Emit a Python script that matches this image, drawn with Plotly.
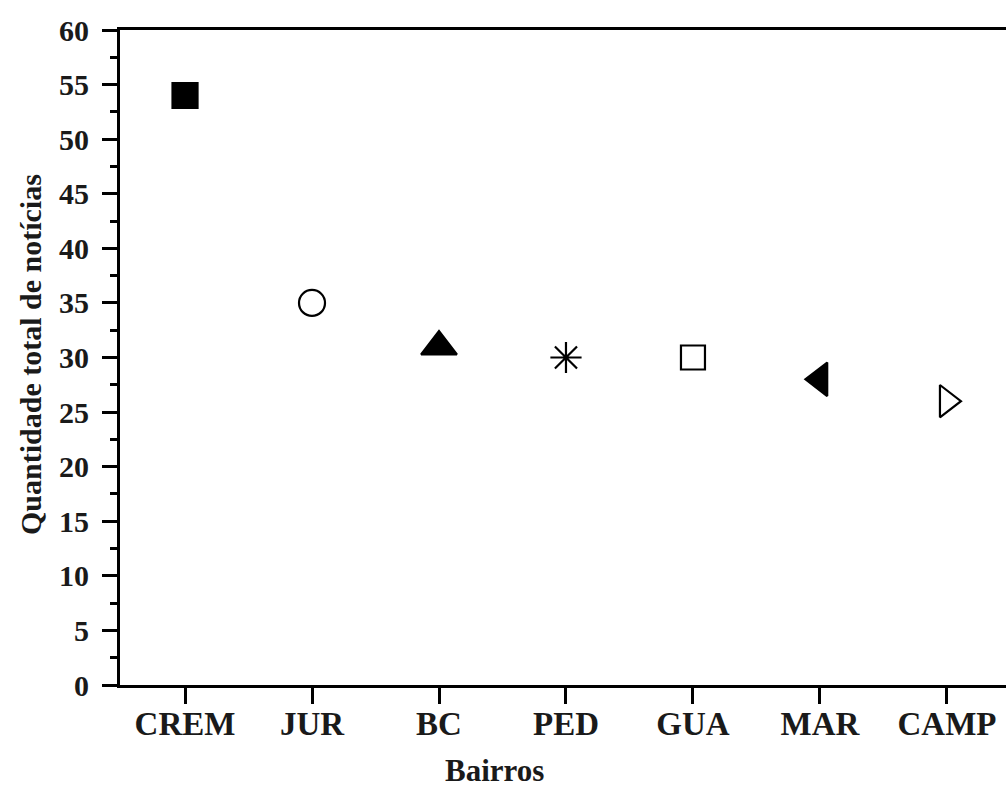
import plotly.graph_objects as go

# ---- data ----
bairros = ["CREM", "JUR", "BC", "PED", "GUA", "MAR", "CAMP"]
noticias = [54, 35, 31, 30, 30, 28, 26]

# ---- styles ----
symbols = ["square", "circle-open", "triangle-up", "asterisk-open",
           "square-open", "triangle-left", "triangle-right-open"]
sizes = [25, 26, 31, 26, 24, 29, 28]

W, H = 1006, 791
L, R, T, B = 120, 0, 30, 106
FONT = "Liberation Serif"
TXT = "#1a1a1a"

fig = go.Figure()
fig.add_trace(go.Scatter(
    x=bairros, y=noticias, mode="markers",
    marker=dict(symbol=symbols, size=sizes, color="black", opacity=1,
                line=dict(color="black", width=2.2)),
    showlegend=False, cliponaxis=False,
))

fig.update_layout(
    width=W, height=H,
    margin=dict(l=L, r=R, t=T, b=B, pad=0),
    plot_bgcolor="white", paper_bgcolor="white",
    font=dict(family=FONT, color=TXT),
    xaxis=dict(
        type="category", range=[-0.512, 6.465],
        showline=True, linecolor="black", linewidth=3, mirror=True,
        ticks="outside", ticklen=16, tickwidth=3, tickcolor="black",
        showgrid=False, zeroline=False,
        tickfont=dict(family=FONT, size=33, color=TXT, weight="bold"),
        ticklabelstandoff=-9,
    ),
    yaxis=dict(
        range=[0, 60], dtick=5, tick0=0,
        showline=True, linecolor="black", linewidth=3,
        ticks="outside", ticklen=15, tickwidth=3, tickcolor="black",
        minor=dict(dtick=2.5, ticks="outside", ticklen=7, tickwidth=3, tickcolor="black"),
        showgrid=False, zeroline=False,
        tickfont=dict(family=FONT, size=30, color=TXT, weight="bold"),
        ticklabelstandoff=7,
    ),
)

plot_w = W - L - R
plot_h = H - T - B
fig.add_annotation(
    text="Quantidade total de notícias", textangle=-90,
    xref="paper", yref="paper",
    x=(30 - L) / plot_w, y=(H - B - 355) / plot_h,
    xanchor="center", yanchor="middle", showarrow=False,
    font=dict(family=FONT, size=30, color=TXT, weight="bold"),
)
fig.add_annotation(
    text="Bairros",
    xref="paper", yref="paper",
    x=(494 - L) / plot_w, y=(H - B - 770) / plot_h,
    xanchor="center", yanchor="middle", showarrow=False,
    font=dict(family=FONT, size=31, color=TXT, weight="bold"),
)

fig.write_html("out.html")
